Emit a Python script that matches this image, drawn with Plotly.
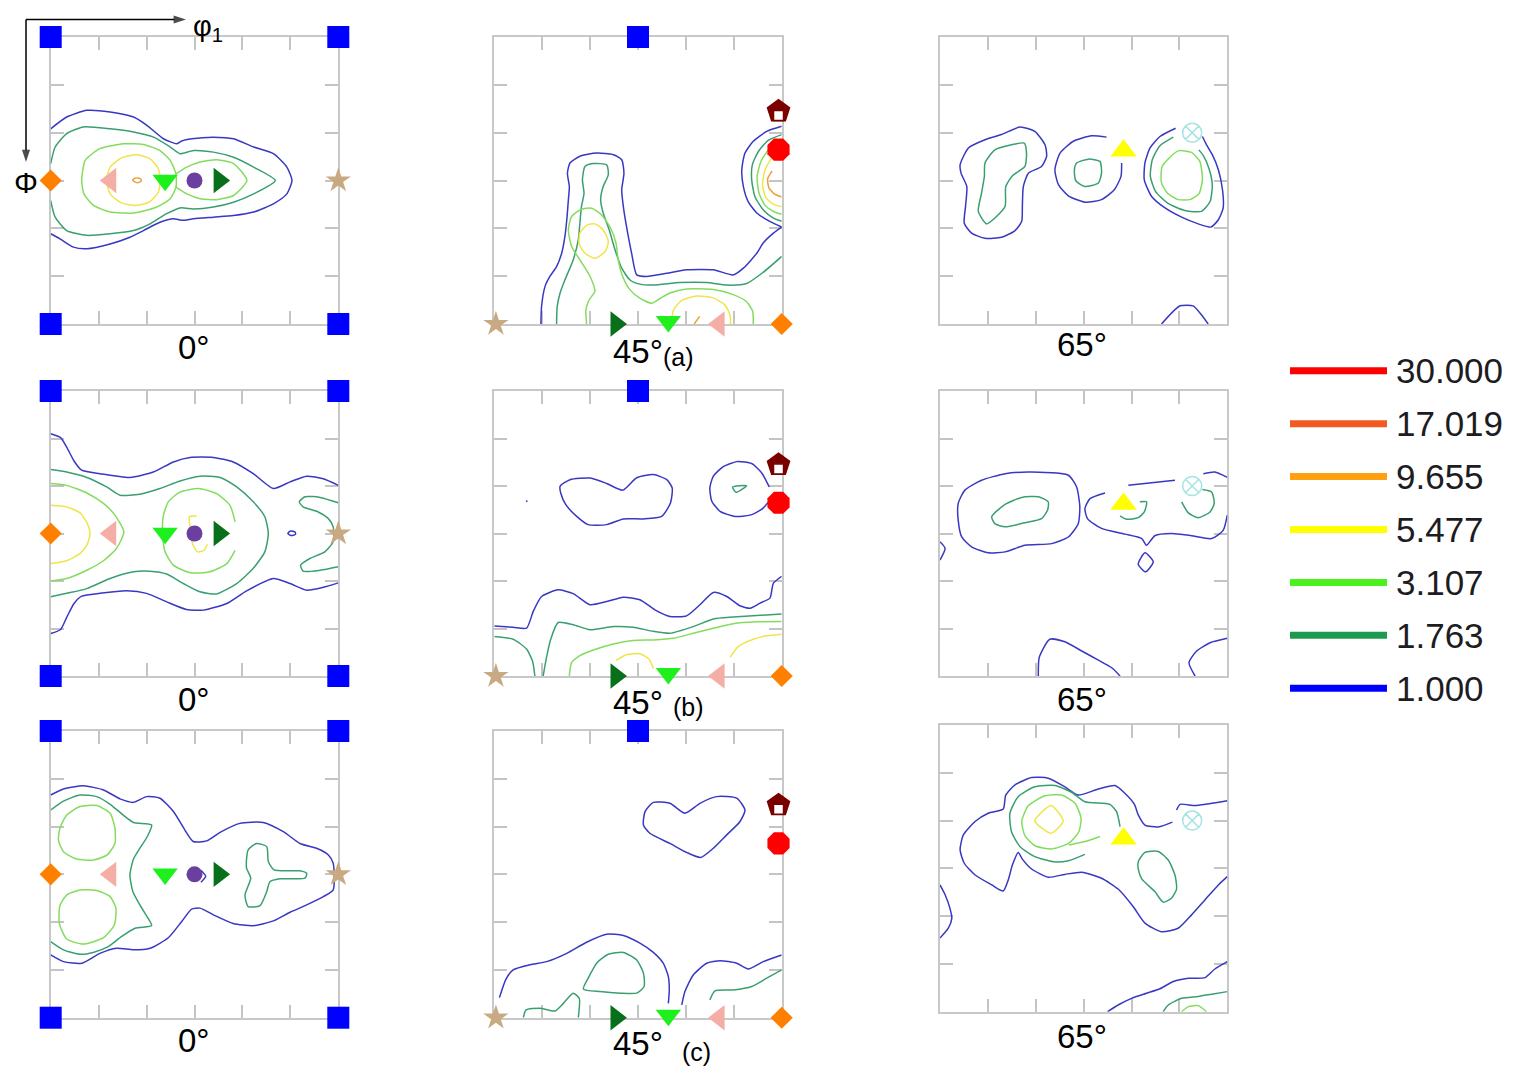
import plotly.graph_objects as go

# page is 1514x1066; the html body adds an 8px margin, so the figure is 8px smaller
PAGE_W, PAGE_H = 1514, 1066
OFFSET = 8
W, H = PAGE_W - OFFSET, PAGE_H - OFFSET

# ======================= DATA =======================
LEVEL_LABELS = ["30.000", "17.019", "9.655", "5.477", "3.107", "1.763", "1.000"]
SECTION_LABELS = ["0°", "45°", "65°"]
ROW_TAGS = ["(a)", "(b)", "(c)"]
TICK_VALS = [15, 30, 45, 60, 75]

# ---- contour lines: (phi1, PHI) in degrees ----
# row (a), phi2 = 0
a0_blue = [(0,28.8),(5.0,25.1),(11.3,23.0),(18.6,23.5),(25.9,25.1),(30.1,27.7),(35.3,31.9),(39.5,33.5),(41.0,32.6),(44.2,31.9),(50.9,31.4),(57.2,31.9),(63.5,34.5),(69.7,36.6),(73.9,40.8),(75.5,45.0),(73.9,49.2),(69.7,52.3),(63.5,54.9),(57.2,56.0),(50.9,56.5),(44.7,57.0),(41.0,57.5),(38.4,57.0),(34.2,58.1),(29.0,60.7),(24.8,62.8),(18.6,64.9),(11.3,66.4),(7.1,65.9),(2.9,63.3),(0,61.7)]
a0_dgreen = [(0,39.7),(1.4,34.5),(5.0,30.3),(10.2,28.2),(18.6,28.8),(25.9,29.8),(32.2,31.4),(37.4,34.5),(40.5,36.6),(44.7,35.6),(50.9,36.1),(57.2,37.7),(63.5,40.8),(70.3,45.0),(63.5,49.2),(57.2,51.8),(50.9,53.3),(44.7,53.9),(40.5,53.6),(36.3,55.4),(31.1,58.6),(25.9,60.7),(18.6,61.7),(11.3,62.2),(5.0,60.7),(1.4,56.5),(0,51.3)]
a0_lgreen_1 = [(9.7,45.0),(10.8,38.7),(15.4,35.0),(22.8,33.5),(29.0,33.7),(34.2,35.6),(37.4,38.7),(39.2,42.9),(39.2,47.1),(37.4,50.7),(33.2,53.3),(25.9,55.2),(18.6,54.9),(13.4,52.8),(10.4,49.2),(9.7,45.0)]
a0_lgreen_2 = [(39.2,42.9),(42.6,40.8),(46.8,39.2),(52.0,38.5),(57.2,39.7),(61.4,45.0),(57.2,49.7),(52.0,51.0),(46.8,50.7),(42.6,49.2),(39.2,47.1)]
a0_yellow = [(18.6,40.8),(22.2,37.9),(26.9,36.9),(31.1,38.2),(33.7,41.3),(34.2,45.0),(33.7,48.6),(31.1,51.6),(26.9,52.8),(22.2,52.1),(18.6,49.2),(17.5,45.0),(18.6,40.8)]
a0_orange = [(25.6,45.0),(26.5,44.2),(28.0,44.4),(28.4,45.1),(27.2,45.7),(25.6,45.0)]

# row (a), phi2 = 45
a45_blue_1 = [(14.6,90),(14.8,84.5),(15.9,78.2),(17.4,75.1),(19.5,72.0),(21.1,67.8),(22.1,62.6),(22.7,57.3),(23.2,51.0),(23.5,46.9),(22.9,42.7),(23.7,39.5),(26.8,37.4),(32.0,36.4),(37.3,36.9),(39.9,38.5),(40.6,42.7),(39.9,47.9),(40.4,53.1),(41.4,59.4),(43.0,67.8),(44.6,74.6),(47.7,75.1),(54.0,74.1),(60.2,73.0),(68.6,73.0),(74.8,74.6),(78.0,72.5),(82.2,67.8),(84.2,64.6),(87.4,61.5),(90,59.6)]
a45_blue_2 = [(90,59.6),(86.4,57.9),(82.2,55.2),(79.5,51.6),(78.0,46.9),(77.5,41.6),(78.5,36.4),(81.1,32.7),(85.3,29.6),(90,28.0)]
a45_dgreen_1 = [(19.5,90),(19.7,84.5),(20.6,80.3),(22.1,76.2),(24.7,69.9),(26.3,63.6),(26.8,58.4),(27.3,53.1),(28.1,49.0),(27.6,44.8),(28.4,40.6),(31.0,39.7),(35.2,40.1),(35.7,43.2),(34.1,46.9),(33.3,51.0),(34.1,55.2),(36.0,60.5),(37.8,66.7),(39.9,72.5),(42.5,76.2),(45.6,77.5),(49.8,77.8),(58.1,77.0),(66.5,77.0),(72.8,77.8),(79.0,77.3),(84.2,73.8),(90,68.8)]
a45_dgreen_2 = [(90,30.6),(85.8,32.4),(82.7,35.9),(80.8,40.1),(80.6,44.8),(81.6,50.0),(84.2,54.2),(87.4,56.8),(90,57.8)]
a45_lgreen_1 = [(28.9,90),(28.7,85.6),(29.7,82.4),(31.5,79.8),(30.0,75.1),(26.8,69.9),(24.2,65.7),(23.2,60.5),(24.2,56.3),(27.3,54.0),(30.5,53.7),(33.6,55.8),(36.4,59.9),(38.1,64.6),(38.8,69.9),(40.2,75.1),(42.5,79.3),(45.6,81.9),(49.3,83.5),(51.9,82.0),(55.0,80.3),(60.2,79.0),(68.6,79.2),(74.8,80.8),(79.0,83.0),(80.9,86.0),(81.1,90)]
a45_lgreen_2 = [(90,33.5),(86.0,35.3),(83.6,38.8),(82.3,43.7),(82.9,49.0),(84.8,52.8),(87.6,54.8),(90,55.6)]
a45_yellow_1 = [(26.8,61.5),(29.1,58.9),(31.5,58.6),(34.1,60.5),(35.7,64.1),(34.7,67.3),(31.5,69.4),(28.4,67.8),(26.6,64.9),(26.8,61.5)]
a45_yellow_2 = [(55.5,90),(56.1,85.6),(58.7,82.6),(63.4,81.2),(68.6,81.8),(72.2,84.0),(73.8,87.1),(74.0,90)]
a45_yellow_3 = [(90,36.2),(87.0,37.8),(84.8,41.6),(84.0,46.3),(85.0,50.3),(87.5,52.5),(90,53.2)]
a45_orange_1 = [(87.0,42.0),(85.6,44.5),(86.0,47.3),(87.8,49.3),(90,50.2)]
a45_orange_2 = [(62.6,90),(64.3,87.6)]

# row (a), phi2 = 65
a65_blue_1 = [(6.3,40.1),(8.9,34.8),(14.1,32.2),(19.3,30.6),(25.1,28.2),(29.7,29.6),(32.9,33.8),(33.4,37.4),(31.8,40.6),(27.7,42.7),(26.1,46.9),(25.8,53.1),(25.6,57.8),(23.5,60.7),(19.3,62.8),(14.1,63.1),(9.9,61.5),(7.6,58.4),(8.0,53.1),(8.4,46.9),(6.6,42.7),(6.3,40.1)]
a65_dgreen_1 = [(14.1,39.5),(17.2,35.4),(22.4,33.8),(26.4,33.3),(27.1,36.4),(26.6,40.6),(22.7,43.5),(20.6,46.9),(20.4,53.1),(17.7,56.3),(14.6,58.6),(12.0,54.7),(13.0,49.0),(13.9,43.7),(14.1,39.5)]
a65_blue_2 = [(52.2,31.4),(47.5,31.0),(41.8,32.7),(37.6,36.4),(36.0,41.6),(37.1,46.3),(40.2,49.8),(45.4,51.8),(50.6,51.0),(54.6,47.9),(56.7,43.7),(56.9,39.5)]
a65_dgreen_2 = [(42.8,39.5),(46.5,38.3),(50.1,39.0),(50.6,42.7),(49.6,45.8),(45.4,46.9),(42.5,45.0),(42.1,41.6),(42.8,39.5)]
a65_blue_3 = [(73.8,28.6),(68.9,31.2),(65.8,34.8),(64.2,39.5),(64.0,44.8),(66.3,50.0),(70.5,53.6),(75.7,56.5),(80.9,58.6),(84.9,59.6),(87.2,57.3),(88.7,53.7),(88.5,47.9),(87.2,41.6),(85.3,36.9),(83.5,33.8),(82.2,31.2)]
a65_dgreen_3 = [(73.1,31.4),(68.9,34.1),(66.5,38.5),(65.9,43.7),(67.5,48.4),(71.3,52.1),(76.7,54.4),(81.9,54.7),(84.6,51.6),(85.3,46.3),(84.2,41.1),(82.5,37.2),(81.1,35.4)]
a65_lgreen_3 = [(69.6,40.6),(74.6,35.7),(78.8,36.2),(81.4,39.0),(82.2,44.8),(81.1,49.2),(78.3,51.0),(74.6,51.0),(71.3,49.0),(69.4,45.8),(69.6,40.6)]
a65_blue_4 = [(69.4,90),(72.5,86.6),(75.2,84.3),(79.3,84.3),(81.9,87.1),(84.0,90)]

# row (b), phi2 = 0
b0_blue_1 = [(0,13.5),(3.1,14.7),(5.0,17.7),(7.3,22.1),(9.7,25.0),(15.4,26.1),(24.8,27.3),(32.1,25.6),(38.4,22.4),(43.6,21.0),(50.9,21.0),(57.1,22.4),(63.4,26.1),(69.7,30.8),(74.9,28.7),(80.1,26.9),(85.3,27.7),(90,29.8)]
b0_blue_2 = [(0,76.6),(3.1,75.3),(5.0,71.5),(7.3,67.1),(9.7,64.8),(15.4,63.9),(23.8,63.1),(30.0,63.9),(36.3,66.6),(42.5,69.0),(47.8,69.2),(55.1,67.1),(61.3,63.1),(69.7,59.2),(74.9,60.8),(80.1,62.9),(85.3,62.0),(90,60.6)]
b0_blue_3 = [(74.2,45.0),(75.0,44.2),(76.5,44.6),(76.6,45.3),(75.2,45.6),(74.2,45.0)]
b0_dgreen_1 = [(0,24.8),(5.0,25.6),(11.3,27.3),(17.5,30.3),(21.7,32.9),(27.9,32.6),(34.2,30.8),(40.5,28.4),(46.7,26.9),(53.0,27.3),(58.2,30.3),(63.4,35.0),(67.0,39.7),(68.1,45.0),(67.0,50.8),(63.4,56.0),(58.2,60.8),(51.9,64.1),(46.7,63.4),(41.5,60.8),(36.3,57.8),(31.1,56.9),(25.9,57.1),(18.6,59.2),(11.3,62.4),(5.0,63.9),(0,65.0)]
b0_dgreen_2 = [(90,35.3),(84.3,33.6),(79.6,33.4),(77.8,35.0),(79.0,36.6),(83.7,38.2),(86.9,40.3),(88.4,42.9),(88.4,47.6),(85.8,50.8),(81.1,52.9),(78.2,55.0),(79.0,56.9),(84.3,56.6),(90,55.5)]
b0_lgreen_1 = [(0,29.2),(5.0,29.8),(11.3,32.2),(16.5,35.5),(20.1,39.2),(22.9,44.5),(20.6,49.7),(16.5,53.6),(11.3,56.6),(5.0,59.2),(0,60.0)]
b0_lgreen_2 = [(57.7,41.3),(56.1,36.1),(51.9,32.4),(46.2,30.8),(40.5,31.9),(36.8,35.0),(35.2,39.7),(35.0,45.0),(35.8,50.8),(38.4,55.0),(43.6,57.4),(49.8,57.1),(55.1,54.5),(57.7,50.3)]
b0_yellow_1 = [(0,36.1),(5.0,36.6),(9.2,38.5),(11.5,41.9),(12.3,45.2),(11.3,48.7),(9.2,51.3),(5.0,53.6),(0,54.5)]
b0_yellow_2 = [(45.7,39.5),(43.4,39.7),(43.8,44.0),(44.4,48.2),(45.9,50.8),(48.0,50.3),(49.0,48.4)]

# row (b), phi2 = 45
b45_blue_1 = [(20.6,30.1),(23.7,28.0),(30.0,27.5),(35.2,29.2),(40.2,31.3),(44.6,27.4),(49.8,26.4),(54.0,28.0),(55.7,30.6),(55.2,35.3),(52.4,39.6),(46.7,40.4),(40.4,40.4),(35.2,42.2),(29.4,42.2),(25.8,39.6),(22.4,35.9),(20.8,32.2),(20.6,30.1)]
b45_blue_2 = [(86.1,30.3),(83.7,25.8),(80.6,22.9),(75.9,22.3),(71.7,23.9),(68.6,26.9),(67.5,30.6),(68.1,34.8),(70.7,38.0),(75.4,39.6),(80.1,39.2),(83.7,37.4),(85.8,35.1)]
b45_blue_dot = [(9.9,34.7),(10.4,34.9)]
b45_dgreen_1 = [(74.6,30.3),(79.0,29.9),(75.7,32.0),(74.6,30.3)]
b45_blue_3 = [(0,74.2),(5.9,74.6),(10.1,74.9),(12.2,69.6),(14.8,64.9),(20.0,62.8),(24.7,64.0),(30.0,67.5),(35.2,66.5),(40.4,65.1),(45.6,65.9),(50.3,69.1),(55.0,71.2),(60.2,71.0),(64.4,67.5),(68.6,63.6),(72.8,64.9),(76.9,67.8),(80.1,68.6),(83.2,67.0),(86.3,65.4),(87.4,60.7),(90,58.5)]
b45_dgreen_2 = [(0,77.5),(5.9,78.4),(10.1,81.5),(12.0,85.4),(12.7,90)]
b45_dgreen_3 = [(15.3,90),(16.2,84.9),(17.6,78.6),(20.0,73.1),(24.7,73.8),(30.0,75.4),(37.3,74.4),(43.5,74.6),(49.8,75.9),(55.0,76.5),(62.3,74.4),(68.6,72.0),(74.8,71.4),(82.2,70.9),(90,70.4)]
b45_lgreen = [(23.5,90),(24.2,85.8),(26.8,83.6),(31.0,81.8),(37.3,79.9),(43.5,78.8),(49.8,78.6),(56.1,78.1),(62.3,76.5),(68.6,74.9),(74.8,73.5),(82.2,72.9),(90,72.8)]
b45_yellow_1 = [(38.1,85.1),(41.4,83.3),(45.6,83.0),(48.5,84.7),(49.8,87.6)]
b45_yellow_2 = [(73.8,84.1),(76.4,80.7),(81.1,78.4),(85.3,77.3),(90,76.8)]

# row (b), phi2 = 65
b65_blue_1 = [(5.7,35.5),(7.8,31.3),(13.0,28.2),(20.4,26.1),(28.7,25.6),(40.2,26.6),(42.8,30.3),(43.8,36.6),(43.3,41.9),(40.2,46.1),(35.0,48.2),(26.6,48.7),(20.4,50.8),(15.1,51.1),(9.9,49.2),(6.8,46.1),(5.7,40.8),(5.7,35.5)]
b65_dgreen_1 = [(16.2,39.7),(20.4,35.8),(25.6,33.6),(30.8,33.4),(33.9,35.0),(33.7,37.6),(31.8,40.3),(26.6,41.6),(20.4,42.9),(17.2,41.9),(16.2,39.7)]
b65_blue_2 = [(59.0,29.8),(66.3,29.0),(73.6,28.2)]
b65_blue_3 = [(82.5,26.1),(86.1,25.6),(90,27.3)]
b65_blue_4 = [(90,39.2),(88.7,44.0),(85.1,46.6),(78.8,45.7),(72.5,45.0),(67.3,45.7),(64.7,48.7),(63.2,46.6),(57.9,45.2),(50.6,43.4),(46.2,40.3),(45.4,37.1),(47.0,34.0),(51.7,32.2)]
b65_dgreen_2 = [(62.6,35.0),(64.7,35.0),(64.0,38.2),(62.1,40.0),(58.5,40.5),(56.4,39.4)]
b65_dgreen_3 = [(82.2,31.1),(85.1,31.9),(85.9,35.5),(84.6,38.2),(80.9,40.0),(77.8,38.5),(75.7,35.0)]
b65_blue_5 = [(64.2,51.1),(66.8,53.9),(64.4,57.1),(62.1,54.7),(64.2,51.1)]
b65_blue_6 = [(0,47.6),(1.6,49.7),(0,53.4)]
b65_blue_7 = [(30.8,90),(31.1,84.1),(34.4,78.4),(39.1,79.2),(44.4,82.1),(49.6,85.0),(53.8,87.4),(56.4,90)]
b65_blue_8 = [(79.9,90),(78.0,85.8),(80.4,82.1),(84.6,79.5),(90,78.1)]

# row (c), phi2 = 0
c0_blue = [(0,20.1),(4.0,18.2),(10.2,17.2),(16.5,18.5),(21.7,21.3),(25.9,22.4),(30.0,20.6),(34.2,21.1),(38.4,25.3),(42.0,31.1),(44.6,34.7),(48.8,34.5),(53.0,31.8),(59.2,29.0),(66.5,28.7),(72.8,31.6),(78.0,35.3),(83.2,36.8),(86.9,38.9),(88.4,41.5),(88.4,49.9),(85.3,52.0),(80.1,54.6),(74.9,56.9),(69.7,59.6),(63.4,61.1),(57.1,60.4),(50.9,57.7),(46.7,55.6),(44.1,55.9),(41.0,59.8),(36.8,64.9),(31.1,68.2),(25.9,68.7),(20.6,68.2),(15.4,69.8),(9.7,72.9),(4.0,72.4),(0,70.3)]
c0_blue_2 = [(47.0,43.7),(48.5,45.6),(47.0,47.5)]
c0_dgreen_1 = [(0,24.8),(4.0,22.0),(9.2,20.1),(14.4,20.6),(18.6,23.0),(22.7,26.4),(25.9,28.7),(31.6,29.5),(30.2,33.2),(27.9,36.8),(25.9,40.2),(24.8,45.2),(25.7,50.4),(27.9,54.6),(30.6,59.0),(31.6,61.1),(26.4,61.9),(22.2,64.5),(18.0,67.7),(13.3,69.5),(9.2,70.1),(4.0,68.7),(0,66.1)]
c0_dgreen_2 = [(61.3,40.0),(61.8,37.3),(64.4,35.3),(67.6,36.3),(68.1,41.0),(69.9,43.6),(78.0,43.9),(80.1,44.7),(79.6,46.2),(71.7,46.4),(68.6,47.3),(67.6,50.4),(65.5,54.8),(61.8,55.1),(60.8,51.5),(62.6,46.2),(61.3,43.1),(61.3,40.0)]
c0_lgreen_1 = [(2.9,30.5),(5.0,26.4),(9.2,23.7),(14.4,23.4),(18.6,25.8),(20.1,30.5),(20.1,35.3),(17.7,38.9),(13.3,40.5),(8.1,40.2),(4.0,37.9),(2.4,34.2),(2.9,30.5)]
c0_lgreen_2 = [(2.9,54.8),(5.0,51.5),(9.2,49.9),(14.4,50.1),(18.6,52.0),(20.4,55.6),(19.9,60.9),(16.5,64.9),(10.2,66.9),(5.0,65.3),(2.7,60.4),(2.9,54.8)]

# row (c), phi2 = 45
c45_blue_1 = [(47.2,25.3),(49.8,22.4),(55.0,22.7),(59.7,25.8),(64.4,22.7),(69.6,20.6),(75.9,21.1),(78.5,24.8),(76.9,28.5),(72.8,32.6),(68.6,36.8),(64.6,39.7),(60.2,38.1),(55.0,35.3),(48.7,32.1),(46.7,29.5),(47.2,25.3)]
c45_blue_2 = [(1.6,83.7),(3.7,77.8),(5.9,75.0),(11.2,73.4),(16.4,72.4),(22.7,69.8),(28.9,66.3),(35.2,63.8),(40.4,64.2),(45.6,66.6),(49.8,69.5),(52.9,72.9),(54.5,77.1),(54.8,81.3),(54.5,85.5)]
c45_blue_3 = [(58.7,86.0),(59.7,81.8),(62.3,76.6),(66.5,72.9),(70.7,72.1),(75.9,72.9),(79.5,74.7),(84.2,72.4),(90,70.3)]
c45_dgreen_1 = [(27.9,81.0),(29.4,77.6),(32.3,72.6),(35.7,70.1),(40.4,69.5),(44.6,71.9),(46.7,76.0),(46.9,80.2),(44.6,82.3),(39.4,82.3),(33.1,81.8),(27.9,81.0)]
c45_dgreen_2 = [(9.1,90),(9.9,87.6),(14.3,87.0),(19.0,87.9),(21.6,85.5),(24.7,82.3),(26.6,83.9),(26.3,90)]
c45_dgreen_3 = [(67.5,84.4),(69.1,81.6),(74.8,81.3),(80.6,80.2),(85.3,77.6),(90,75.0)]

# row (c), phi2 = 65
c65_blue_1 = [(74.1,26.7),(75.2,24.9),(79.9,25.3),(85.1,24.6),(90,23.8)]
c65_blue_2 = [(72.8,30.5),(68.4,32.0),(64.2,31.4),(62.1,28.2),(60.9,24.9),(57.9,21.4),(54.8,19.0),(49.6,20.1),(43.3,22.0),(39.1,19.4),(33.9,16.7),(28.7,16.5),(23.5,18.8),(20.6,22.0),(19.8,26.4),(15.1,27.7),(11.0,30.3),(7.3,34.5),(6.3,39.2),(7.6,43.4),(11.0,47.1),(16.2,50.2),(19.8,52.1),(21.4,48.6),(22.7,43.9),(24.5,40.0),(25.8,42.1),(28.7,45.2),(33.9,47.8),(39.1,46.9),(44.4,46.2),(50.6,48.1),(55.8,51.5),(60.5,57.0),(64.2,62.2),(69.4,64.9),(74.6,63.8),(78.8,59.6),(83.0,54.9),(87.2,50.2),(90,47.6)]
c65_dgreen_1 = [(56.4,31.9),(55.3,27.2),(53.2,24.9),(45.4,24.1),(41.2,21.1),(36.0,19.0),(29.7,19.4),(24.5,22.5),(21.9,27.7),(22.4,33.5),(25.1,38.2),(29.7,41.3),(35.5,42.9),(40.2,42.6),(45.4,40.6)]
c65_lgreen_1 = [(25.6,30.3),(27.7,25.3),(32.9,22.2),(38.1,22.0),(42.3,24.6),(44.2,29.3),(43.5,33.5),(40.4,37.1),(35.0,38.9),(29.7,37.9),(26.6,34.7),(25.6,30.3)]
c65_lgreen_2 = [(40.4,37.7),(45.4,36.6),(50.1,35.0)]
c65_yellow = [(29.7,30.1),(34.8,25.3),(38.6,30.1),(34.8,34.0),(29.7,30.1)]
c65_dgreen_2 = [(62.1,42.9),(64.2,40.0),(68.4,39.7),(71.5,42.4),(73.6,47.1),(74.1,51.5),(72.5,54.4),(69.9,55.6),(67.3,52.3),(63.2,48.3),(62.1,45.2),(62.1,42.9)]
c65_blue_3 = [(0,50.2),(1.6,53.3),(3.1,57.5),(3.7,60.7),(2.6,63.8),(0,66.9)]
c65_blue_4 = [(52.5,90),(55.8,87.9),(60.0,85.8),(64.7,84.2),(68.9,82.8),(73.1,80.5),(77.8,79.5),(83.0,79.3),(86.1,76.6),(90,74.3)]
c65_dgreen_3 = [(69.9,90),(71.5,87.9),(75.7,85.8),(80.9,85.2),(85.1,84.5),(90,83.7)]
c65_lgreen_3 = [(75.7,90),(77.8,88.4),(80.9,88.1),(83.5,90)]

# ---- ideal-orientation markers (phi1, PHI) for each phi2 section ----
CUBE_0 = [(0, 0), (90, 0), (0, 90), (90, 90)]
CUBE_45 = [(45, 0)]
GOSS_0 = [(0, 45)]
GOSS_45 = [(90, 90)]
PINK_0 = [(18.8, 45)]
PINK_45 = [(70.4, 90)]
BRASS_0 = [(35.8, 44.9)]
BRASS_45 = [(54.5, 89.2)]
PURPLE_0 = [(45, 45)]
DKGREEN_0 = [(52.7, 45)]
DKGREEN_45 = [(38.1, 90)]
STAR_0 = [(90, 45)]
STAR_45 = [(0.5, 90)]
PENT_45 = [(89, 23.3)]
PENT_BASE_45 = [(89, 24.6)]
COPPER_45 = [(89, 35.3)]
S_65 = [(57.5, 35.7)]
CYAN_65 = [(79, 30)]

# ======================= STYLE / LAYOUT =======================
FONT = "Liberation Sans, Arial, sans-serif"
LEVEL_COLORS = ["#ff0000", "#f25a22", "#ffa010", "#ffff00", "#4cf01e", "#1e9a50", "#0000ff"]
LINE_COLORS = {"1.000": "#3838c2", "1.763": "#3a9f70", "3.107": "#84dc5e",
               "5.477": "#efe54a", "9.655": "#eba03c"}

CONTOURS = [
    ("a0", "1.000", a0_blue), ("a0", "1.763", a0_dgreen), ("a0", "3.107", a0_lgreen_1),
    ("a0", "3.107", a0_lgreen_2), ("a0", "5.477", a0_yellow), ("a0", "9.655", a0_orange),
    ("a45", "1.000", a45_blue_1), ("a45", "1.000", a45_blue_2), ("a45", "1.763", a45_dgreen_1),
    ("a45", "1.763", a45_dgreen_2), ("a45", "3.107", a45_lgreen_1), ("a45", "3.107", a45_lgreen_2),
    ("a45", "5.477", a45_yellow_1), ("a45", "5.477", a45_yellow_2), ("a45", "5.477", a45_yellow_3),
    ("a45", "9.655", a45_orange_1), ("a45", "9.655", a45_orange_2),
    ("a65", "1.000", a65_blue_1), ("a65", "1.763", a65_dgreen_1), ("a65", "1.000", a65_blue_2),
    ("a65", "1.763", a65_dgreen_2), ("a65", "1.000", a65_blue_3), ("a65", "1.763", a65_dgreen_3),
    ("a65", "3.107", a65_lgreen_3), ("a65", "1.000", a65_blue_4),
    ("b0", "1.000", b0_blue_1), ("b0", "1.000", b0_blue_2), ("b0", "1.000", b0_blue_3),
    ("b0", "1.763", b0_dgreen_1), ("b0", "1.763", b0_dgreen_2), ("b0", "3.107", b0_lgreen_1),
    ("b0", "3.107", b0_lgreen_2), ("b0", "5.477", b0_yellow_1), ("b0", "5.477", b0_yellow_2),
    ("b45", "1.000", b45_blue_1), ("b45", "1.000", b45_blue_2), ("b45", "1.000", b45_blue_dot),
    ("b45", "1.763", b45_dgreen_1), ("b45", "1.000", b45_blue_3), ("b45", "1.763", b45_dgreen_2),
    ("b45", "1.763", b45_dgreen_3), ("b45", "3.107", b45_lgreen), ("b45", "5.477", b45_yellow_1),
    ("b45", "5.477", b45_yellow_2),
    ("b65", "1.000", b65_blue_1), ("b65", "1.763", b65_dgreen_1), ("b65", "1.000", b65_blue_2),
    ("b65", "1.000", b65_blue_3), ("b65", "1.000", b65_blue_4), ("b65", "1.763", b65_dgreen_2),
    ("b65", "1.763", b65_dgreen_3), ("b65", "1.000", b65_blue_5), ("b65", "1.000", b65_blue_6),
    ("b65", "1.000", b65_blue_7), ("b65", "1.000", b65_blue_8),
    ("c0", "1.000", c0_blue), ("c0", "1.000", c0_blue_2), ("c0", "1.763", c0_dgreen_1),
    ("c0", "1.763", c0_dgreen_2), ("c0", "3.107", c0_lgreen_1), ("c0", "3.107", c0_lgreen_2),
    ("c45", "1.000", c45_blue_1), ("c45", "1.000", c45_blue_2), ("c45", "1.000", c45_blue_3),
    ("c45", "1.763", c45_dgreen_1), ("c45", "1.763", c45_dgreen_2), ("c45", "1.763", c45_dgreen_3),
    ("c65", "1.000", c65_blue_1), ("c65", "1.000", c65_blue_2), ("c65", "1.763", c65_dgreen_1),
    ("c65", "3.107", c65_lgreen_1), ("c65", "3.107", c65_lgreen_2), ("c65", "5.477", c65_yellow),
    ("c65", "1.763", c65_dgreen_2), ("c65", "1.000", c65_blue_3), ("c65", "1.000", c65_blue_4),
    ("c65", "1.763", c65_dgreen_3), ("c65", "3.107", c65_lgreen_3),
]

MARKER_STYLE = {
    "cube": dict(symbol="square", size=22, color="#0000ff"),
    "goss": dict(symbol="diamond", size=17, color="#ff7f00"),
    "pink": dict(symbol="triangle-left", size=22, color="#f5aea6"),
    "brass": dict(symbol="triangle-down", size=22, color="#1ef01e"),
    "purple": dict(symbol="circle", size=16, color="#6b3fa0"),
    "dkgreen": dict(symbol="triangle-right", size=22, color="#08701a"),
    "star": dict(symbol="star", size=19, color="#c9a981"),
    "pent": dict(symbol="pentagon", size=25, color="#7a0000"),
    "pentbase": dict(symbol="square", size=10, color="#ffffff", line=dict(color="#7a0000", width=1.5)),
    "copper": dict(symbol="octagon", size=24, color="#ff0000"),
    "s": dict(symbol="triangle-up", size=23, color="#ffff00"),
    "cyan": dict(symbol="circle-x-open", size=19, color="#a6e3e3", line=dict(color="#a6e3e3", width=1.5)),
}
SECTION_MARKERS = {
    0: [("cube", CUBE_0), ("goss", GOSS_0), ("pink", PINK_0), ("brass", BRASS_0),
        ("purple", PURPLE_0), ("dkgreen", DKGREEN_0), ("star", STAR_0)],
    1: [("cube", CUBE_45), ("goss", GOSS_45), ("pink", PINK_45), ("brass", BRASS_45),
        ("dkgreen", DKGREEN_45), ("star", STAR_45), ("pent", PENT_45), ("pentbase", PENT_BASE_45),
        ("copper", COPPER_45)],
    2: [("s", S_65), ("cyan", CYAN_65)],
}

PANELS = ["a0", "a45", "a65", "b0", "b45", "b65", "c0", "c45", "c65"]
# panel frames in page pixels
COL_PX = [(50.7, 338.3), (494.3, 781.7), (940.0, 1227.3)]
ROW_PX = [(37.0, 324.0), (391.0, 676.0), (731.0, 1017.7)]
ROW_PX_OVERRIDE = {"c65": (725.0, 1011.7)}
LABEL_X = [193.5, 637.5, 1082.0]
LABEL_Y = [[348, 351, 344.5], [699.5, 702, 699.5], [1040.5, 1043, 1036]]
TAG_PX = [(678, 357), (688, 706.5), (696, 1051.5)]


def px_x(px):
    return (px - OFFSET) / W


def px_y(py):
    return 1 - (py - OFFSET) / H


fig = go.Figure()
layout = dict(width=W, height=H, margin=dict(l=0, r=0, t=0, b=0), autosize=False,
              paper_bgcolor="white", plot_bgcolor="rgba(0,0,0,0)", showlegend=False,
              font=dict(family=FONT, color="#000000"))

axis_common = dict(showgrid=False, zeroline=False, showticklabels=False,
                   ticks="inside", ticklen=13, tickwidth=1.5, tickcolor="#c4c4c4",
                   tickmode="array", tickvals=TICK_VALS, showline=True, linecolor="#c8c8c8",
                   linewidth=2, mirror="ticks", layer="below traces", fixedrange=True)

annotations = []
panel_index = {}
for i, key in enumerate(PANELS):
    r, c = divmod(i, 3)
    k = i + 1
    panel_index[key] = k
    x0, x1 = COL_PX[c]
    y0, y1 = ROW_PX_OVERRIDE.get(key, ROW_PX[r])
    xa = "xaxis" if k == 1 else f"xaxis{k}"
    ya = "yaxis" if k == 1 else f"yaxis{k}"
    layout[xa] = dict(axis_common, domain=[px_x(x0), px_x(x1)], range=[0, 90],
                      anchor="y" if k == 1 else f"y{k}")
    layout[ya] = dict(axis_common, domain=[px_y(y1), px_y(y0)], range=[90, 0],
                      anchor="x" if k == 1 else f"x{k}")
    annotations.append(dict(text=SECTION_LABELS[c], xref="paper", yref="paper",
                            x=px_x(LABEL_X[c]), y=px_y(LABEL_Y[r][c]),
                            xanchor="center", yanchor="middle", showarrow=False,
                            font=dict(size=33, family=FONT, color="#000000")))

for r, tag in enumerate(ROW_TAGS):
    tx, ty = TAG_PX[r]
    annotations.append(dict(text=tag, xref="paper", yref="paper", x=px_x(tx), y=px_y(ty),
                            xanchor="center", yanchor="middle", showarrow=False,
                            font=dict(size=25, family=FONT, color="#000000")))


def axis_refs(k):
    return ("x" if k == 1 else f"x{k}", "y" if k == 1 else f"y{k}")


# contour lines
for key, level, pts in CONTOURS:
    xr, yr = axis_refs(panel_index[key])
    fig.add_trace(go.Scatter(x=[p[0] for p in pts], y=[p[1] for p in pts], mode="lines",
                             line=dict(color=LINE_COLORS[level], width=1.5, shape="spline",
                                       smoothing=0.6),
                             xaxis=xr, yaxis=yr, hoverinfo="skip"))

# ideal orientation markers
for key in PANELS:
    k = panel_index[key]
    c = (k - 1) % 3
    xr, yr = axis_refs(k)
    for name, pts in SECTION_MARKERS[c]:
        st = dict(MARKER_STYLE[name])
        if "line" not in st:
            st["line"] = dict(width=0)
        fig.add_trace(go.Scatter(x=[p[0] for p in pts], y=[p[1] for p in pts], mode="markers",
                                 marker=st, cliponaxis=False, xaxis=xr, yaxis=yr,
                                 hoverinfo="skip"))

# ---- contour-level legend (own hidden axes) ----
LEG_X = (1290, 1387)
LEG_TOP, LEG_STEP = 370.7, 52.93
n = len(LEVEL_LABELS)
layout["xaxis10"] = dict(domain=[px_x(LEG_X[0]), px_x(LEG_X[1])], range=[0, 1], visible=False,
                         anchor="y10", fixedrange=True)
layout["yaxis10"] = dict(domain=[px_y(LEG_TOP + (n - 0.5) * LEG_STEP), px_y(LEG_TOP - 0.5 * LEG_STEP)],
                         range=[n - 0.5, -0.5], visible=False, anchor="x10", fixedrange=True)
for i, (lab, col) in enumerate(zip(LEVEL_LABELS, LEVEL_COLORS)):
    fig.add_trace(go.Scatter(x=[0, 1], y=[i, i], mode="lines", line=dict(color=col, width=7),
                             xaxis="x10", yaxis="y10", hoverinfo="skip"))
    annotations.append(dict(text=lab, xref="x10", yref="y10", x=1, y=i, xanchor="left",
                            yanchor="middle", xshift=7, showarrow=False,
                            font=dict(size=35, family=FONT, color="#1c1c22")))

# ---- axis-direction arrows (phi1 to the right, PHI downwards) on a page-pixel overlay ----
layout["xaxis11"] = dict(domain=[0, 1], range=[OFFSET, OFFSET + W], visible=False,
                         anchor="y11", fixedrange=True)
layout["yaxis11"] = dict(domain=[0, 1], range=[OFFSET + H, OFFSET], visible=False,
                         anchor="x11", fixedrange=True)
ARROW_CORNER = (26, 19.5)
ARROW_TIPS = [(186, 19.5), (26, 162)]
for tip in ARROW_TIPS:
    fig.add_trace(go.Scatter(x=[ARROW_CORNER[0], tip[0]], y=[ARROW_CORNER[1], tip[1]],
                             mode="lines+markers", line=dict(color="#000000", width=1.5),
                             marker=dict(symbol="arrow", size=[0, 13], angleref="previous",
                                         color="#000000", line=dict(width=0)),
                             cliponaxis=False, xaxis="x11", yaxis="y11", hoverinfo="skip"))

annotations.append(dict(text="φ<sub>1</sub>", xref="paper", yref="paper", x=px_x(191), y=px_y(8.5),
                        xanchor="left", yanchor="top", showarrow=False,
                        font=dict(size=29, family=FONT, color="#000000")))
annotations.append(dict(text="Φ", xref="paper", yref="paper", x=px_x(25.5), y=px_y(182),
                        xanchor="center", yanchor="middle", showarrow=False,
                        font=dict(size=30, family=FONT, color="#000000")))

layout["annotations"] = annotations
fig.update_layout(**layout)
fig.write_html("out.html")
